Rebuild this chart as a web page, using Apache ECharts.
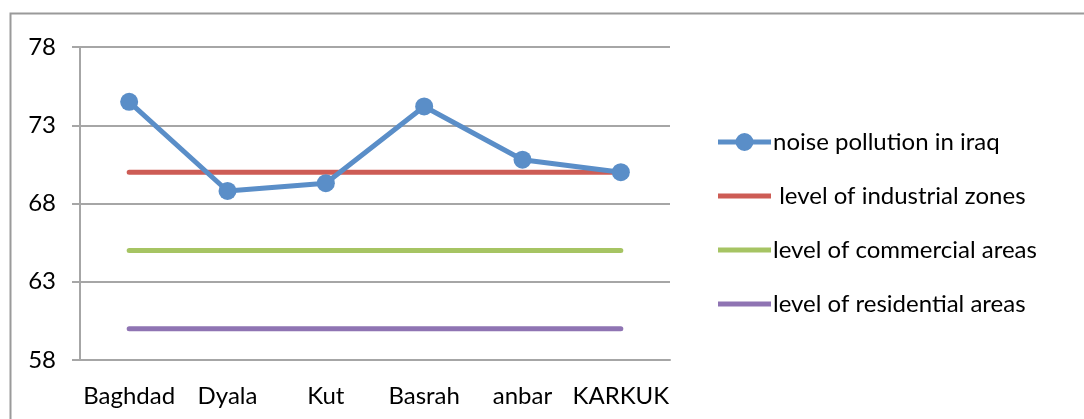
<!DOCTYPE html>
<html>
<head>
<meta charset="utf-8">
<script src="https://cdn.jsdelivr.net/npm/echarts@6/dist/echarts.min.js"></script>
<style>
  html, body { margin: 0; padding: 0; background: #fff; }
  #chart { width: 1084px; height: 419px; }
</style>
</head>
<body>
<div id="chart"></div>
<script>
// data
var cities = ['Baghdad', 'Dyala', 'Kut', 'Basrah', 'anbar', 'KARKUK'];
var noiseIraq = [74.5, 68.8, 69.3, 74.2, 70.8, 70.0];
var industrialLevel = [70, 70, 70, 70, 70, 70];
var commercialLevel = [65, 65, 65, 65, 65, 65];
var residentialLevel = [60, 60, 60, 60, 60, 60];
var seriesNames = ['noise pollution in iraq', ' level of industrial zones', 'level of commercial areas', 'level of residential areas'];

var font = 'Lato';
var gray = '#a6a6a6';
// legend icons, box 55x18 (corner points keep the box size)
var barIcon = 'path://M0,0 M1,6.5 L54,6.5 L54,11.5 L1,11.5 Z M55,18';
var dotIcon = 'path://M0,0 M1,6.5 L54,6.5 L54,11.5 L1,11.5 Z M18.5,9 A9,9 0 1 1 36.5,9 A9,9 0 1 1 18.5,9 Z M55,18';

function flatLine(name, data, color) {
  return {
    name: name,
    type: 'line',
    data: data,
    symbol: 'none',
    itemStyle: { color: color },
    lineStyle: { color: color, width: 5, cap: 'round' },
    silent: true
  };
}

var chart = echarts.init(document.getElementById('chart'));
chart.setOption({
  animation: false,
  textStyle: { fontFamily: font },
  graphic: [{
    type: 'rect',
    shape: { x: 10.5, y: 13.5, width: 1100, height: 430 },
    style: { fill: 'none', stroke: '#9a9a9a', lineWidth: 2 }
  }],
  grid: { left: 80, right: 414, top: 47, bottom: 59 },
  legend: {
    orient: 'vertical',
    left: 717,
    top: 130,
    padding: 0,
    itemWidth: 55,
    itemHeight: 18,
    itemGap: 30,
    textStyle: { fontSize: 24, color: '#000', fontFamily: font, padding: [0, 0, 0, -4] },
    data: [
      { name: seriesNames[0], icon: dotIcon },
      { name: seriesNames[1], icon: barIcon },
      { name: seriesNames[2], icon: barIcon },
      { name: seriesNames[3], icon: barIcon }
    ]
  },
  xAxis: {
    type: 'category',
    data: cities,
    boundaryGap: true,
    axisLine: { lineStyle: { color: gray, width: 2 } },
    axisTick: { length: 8, lineStyle: { color: gray, width: 2 } },
    axisLabel: { color: '#000', fontSize: 24, margin: 24, interval: 0, fontFamily: font }
  },
  yAxis: {
    type: 'value',
    min: 58,
    max: 78,
    interval: 5,
    axisLine: { show: true, lineStyle: { color: gray, width: 2 } },
    axisTick: { show: true, length: 8, lineStyle: { color: gray, width: 2 } },
    axisLabel: { color: '#000', fontSize: 24, margin: 24, fontFamily: font },
    splitLine: { lineStyle: { color: gray, width: 2 } }
  },
  series: [
    {
      name: seriesNames[0],
      type: 'line',
      data: noiseIraq,
      symbol: 'circle',
      symbolSize: 18,
      itemStyle: { color: '#5a8ec8' },
      lineStyle: { color: '#5a8ec8', width: 5 },
      z: 5
    },
    flatLine(seriesNames[1], industrialLevel, '#cd5c55'),
    flatLine(seriesNames[2], commercialLevel, '#a6c463'),
    flatLine(seriesNames[3], residentialLevel, '#8f74b3')
  ]
});
</script>
</body>
</html>
